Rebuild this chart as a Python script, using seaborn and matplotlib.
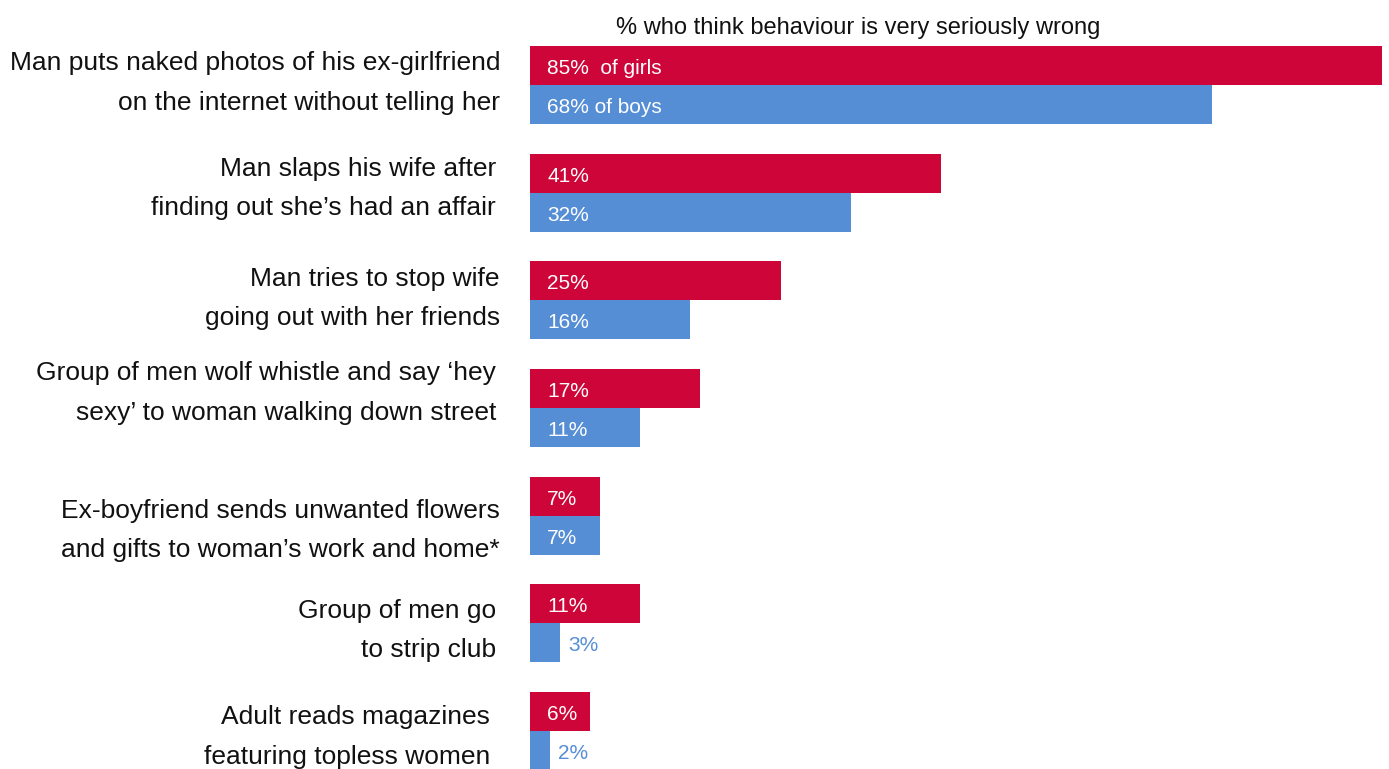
import matplotlib
matplotlib.use("Agg")
import matplotlib.pyplot as plt
import matplotlib.transforms as mtransforms
import seaborn as sns
import pandas as pd

# Survey items and shares answering "very seriously wrong"
behaviours = [
    "Man puts naked photos of his ex-girlfriend\non the internet without telling her",
    "Man slaps his wife after\nfinding out she\u2019s had an affair",
    "Man tries to stop wife\ngoing out with her friends",
    "Group of men wolf whistle and say \u2018hey\nsexy\u2019 to woman walking down street",
    "Ex-boyfriend sends unwanted flowers\nand gifts to woman\u2019s work and home*",
    "Group of men go\nto strip club",
    "Adult reads magazines\nfeaturing topless women",
]
girls = [85, 41, 25, 17, 7, 11, 6]
boys = [68, 32, 16, 11, 7, 3, 2]
groups = ["girls", "boys"]
first_suffix = {"girls": "  of girls", "boys": " of boys"}
title = "% who think behaviour is very seriously wrong"

RED = "#CD0538"
BLUE = "#558ED5"

df = pd.DataFrame({
    "behaviour": behaviours * 2,
    "group": [groups[0]] * len(behaviours) + [groups[1]] * len(behaviours),
    "pct": girls + boys,
})

sns.set_theme(style="white")
plt.rcParams["font.family"] = ["Liberation Sans", "DejaVu Sans"]

W, H, DPI = 1389, 769, 100
fig = plt.figure(figsize=(W / DPI, H / DPI), dpi=DPI)
ax = fig.add_axes([530 / W, 0, (1382 - 530) / W, 1])

sns.barplot(data=df, y="behaviour", x="pct", hue="group", order=behaviours,
            hue_order=groups, palette=[RED, BLUE], orient="h",
            width=0.724, gap=0, linewidth=0, saturation=1, ax=ax, legend=False)

ax.set_xlim(0, 85)
# vertical scale: group 0 boundary at 85px, 107.67px between groups
step = 107.67
ax.set_ylim((H - 85) / step, -85 / step)
ax.axis("off")

# value labels
bar_h = 0.724 / 2
lab_dy = 3 / step
for i in range(len(behaviours)):
    for g, vals, col in ((0, girls, RED), (1, boys, BLUE)):
        v = vals[i]
        yc = i - bar_h / 2 + g * bar_h + lab_dy
        txt = f"{v}%"
        if i == 0:
            txt += first_suffix[groups[g]]
        if v >= 5:
            ax.text(1.7, yc, txt, color="white", fontsize=15, va="center", ha="left")
        else:
            ax.text(v + 0.8, yc, txt, color=col, fontsize=15, va="center", ha="left")

# category labels on the left
right_px = [500, 496, 500, 496, 500, 496, 490]
dy_px = [-2, -4, -2, -15, 15, 7, 6]
trans = mtransforms.blended_transform_factory(fig.transFigure, ax.transData)
for i, lab in enumerate(behaviours):
    fig.text(right_px[i] / W, i + dy_px[i] / step, lab, transform=trans,
             ha="right", va="center", multialignment="right",
             fontsize=19, linespacing=1.8, color="#111111")

fig.text(858 / W, 1 - 28 / H, title, ha="center", va="center",
         fontsize=17, color="#111111")

fig.savefig("out.png", dpi=DPI)
